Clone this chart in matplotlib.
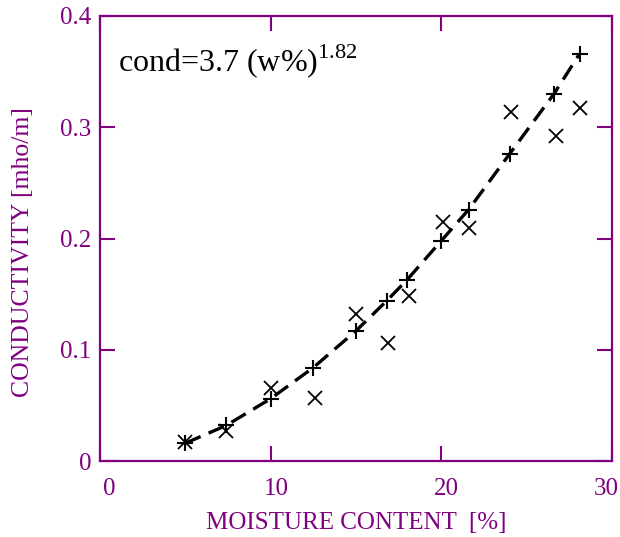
import matplotlib
matplotlib.use("Agg")
import matplotlib.pyplot as plt
from matplotlib.transforms import ScaledTranslation

# Data
moisture_fit = [5.0, 7.4, 10.0, 12.5, 15.0, 16.8, 18.0, 20.0, 21.6, 24.0, 26.6, 28.1]
cond_fit = [0.016, 0.032, 0.056, 0.084, 0.117, 0.144, 0.163, 0.198, 0.226, 0.276, 0.330, 0.366]
moisture_meas = [5.0, 7.4, 10.0, 12.6, 15.0, 16.9, 18.1, 20.1, 21.6, 24.1, 26.7, 28.1]
cond_meas = [0.017, 0.027, 0.066, 0.057, 0.132, 0.106, 0.148, 0.215, 0.209, 0.314, 0.292, 0.317]
xticks = [0, 10, 20, 30]
yticks = [0, 0.1, 0.2, 0.3, 0.4]
yticklabels = ["0", "0.1", "0.2", "0.3", "0.4"]

purple = "#800080"
plt.rcParams['font.family'] = ['Liberation Serif', 'DejaVu Serif']
plt.rcParams['mathtext.fontset'] = 'custom'
plt.rcParams['mathtext.rm'] = 'Liberation Serif'

fig = plt.figure(figsize=(6.2, 5.37), dpi=100)
ax = fig.add_axes([100/620, 1-461/537, 512/620, 445/537])

ax.plot(moisture_fit, cond_fit, color='black', lw=2.4, dashes=(5, 2.6),
        marker='+', markersize=11, markeredgewidth=1.5)
ax.plot(moisture_meas, cond_meas, linestyle='none', color='black',
        marker='x', markersize=10, markeredgewidth=1.3)

ax.set_xlim(0, 30)
ax.set_ylim(0, 0.4)
ax.set_xticks(xticks)
ax.set_xticklabels([str(t) for t in xticks])
ax.set_yticks(yticks)
ax.set_yticklabels(yticklabels)

for s in ax.spines.values():
    s.set_color(purple)
    s.set_linewidth(1.6)
ax.tick_params(which='both', direction='in', length=11, width=1.5, color=purple,
               labelcolor=purple, labelsize=18, top=True, right=True)
ax.tick_params(axis='x', pad=12)
ax.tick_params(axis='y', pad=6)

# small horizontal nudges of x tick labels as in the reference
nudges_px = [9, 6, 5, -6]
for lab, dx in zip(ax.get_xticklabels(), nudges_px):
    lab.set_transform(lab.get_transform() + ScaledTranslation(dx / 100, 0, fig.dpi_scale_trans))

ax.set_xlabel("MOISTURE CONTENT  [%]", color=purple, fontsize=18, labelpad=9)
ax.set_ylabel("CONDUCTIVITY [mho/m]", color=purple, fontsize=18.5)
ax.yaxis.set_label_coords(-0.129, 0.47)

ax.text(0.035, 0.875, r"cond=3.7 (w%)$^{1.82}$", transform=ax.transAxes,
        fontsize=23, color='black')

fig.savefig("out.png", dpi=100)
